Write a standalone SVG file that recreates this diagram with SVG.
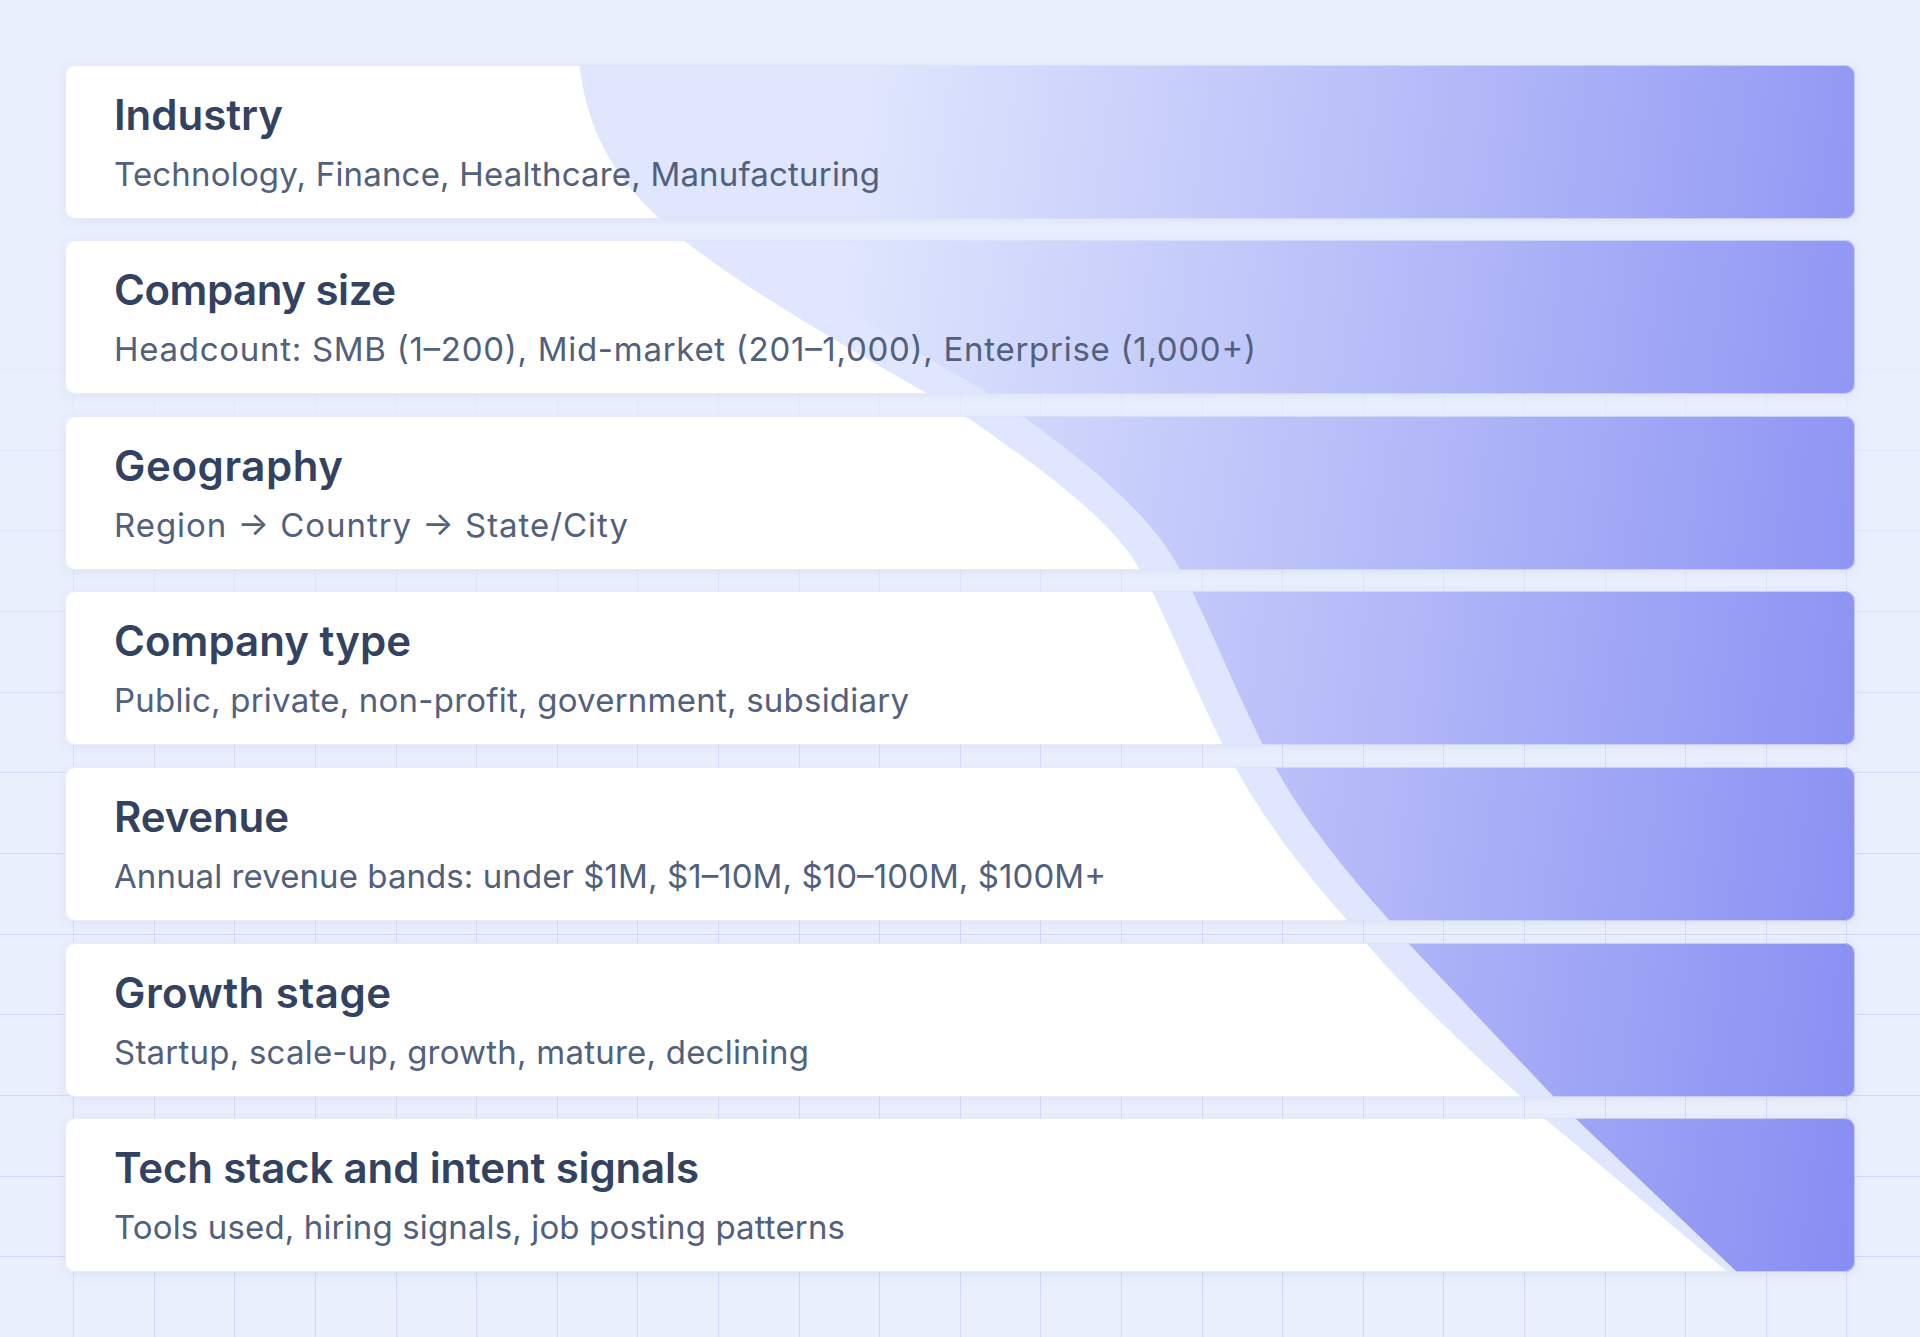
<svg xmlns="http://www.w3.org/2000/svg" width="1920" height="1337" viewBox="0 0 1920 1337">
<defs>
<style>
.bg{fill:#E9EFFD}
.grid{fill:none;stroke:#CFDAF8;stroke-width:1}
.card{fill:#FFFFFF}
.edge{fill:none;stroke:#DCE3F6;stroke-opacity:0.7;stroke-width:1}
.band{fill:#DFE6FD}
.grad{fill:url(#fg)}
.title{font-family:Inter,"Liberation Sans",sans-serif;font-weight:600;font-size:42px;fill:#334260}
.sub{font-family:Inter,"Liberation Sans",sans-serif;font-weight:400;font-size:33px;fill:#51607D}
</style>
<linearGradient id="fg" gradientUnits="userSpaceOnUse" x1="861" y1="140" x2="1973" y2="283">
<stop offset="0" stop-color="#DFE6FD"/>
<stop offset="0.5" stop-color="#B5BBF8"/>
<stop offset="1" stop-color="#888EF2"/>
</linearGradient>
<linearGradient id="fade" gradientUnits="userSpaceOnUse" x1="0" y1="280" x2="0" y2="820">
<stop offset="0" stop-color="#fff" stop-opacity="0"/>
<stop offset="1" stop-color="#fff" stop-opacity="1"/>
</linearGradient>
<mask id="gridmask" maskUnits="userSpaceOnUse" x="0" y="0" width="1920" height="1337">
<rect x="0" y="0" width="1920" height="1337" fill="url(#fade)"/>
</mask>
<filter id="sh" x="-5%" y="-20%" width="110%" height="150%">
<feDropShadow dx="0" dy="2" stdDeviation="4" flood-color="#5B6EA8" flood-opacity="0.10"/>
</filter>
<path id="outer" d="M579 60 C584.3 113 601.7 166 660 219 L683 240 C749.7 291.3 838.2 342.7 928 394 L965 416 C1039.4 467.3 1111.8 518.7 1140 570 L1152 591 C1176.6 642.3 1197.4 693.7 1223 745 L1235 767 C1263.2 818.3 1301.8 869.7 1348 921 L1366 943 C1409.6 994.3 1464.6 1045.7 1521 1097 L1544 1118 L1729 1273 L1740 1284 L1900 1284 L1900 60 Z"/>
<path id="inner" d="M640 60 C645.3 113 662.7 166 721 219 L745 240 C811.7 291.3 900.2 342.7 990 394 L1022 416 C1093.8 467.3 1154.3 518.7 1180 570 L1192 591 C1216.6 642.3 1237.4 693.7 1263 745 L1275 767 C1303.2 818.3 1343.8 869.7 1390 921 L1408 943 L1554 1097 L1575 1118 L1738 1273 L1746 1284 L1900 1284 L1900 60 Z"/>
<clipPath id="c1"><rect x="65" y="65" width="1790" height="154" rx="10"/></clipPath>
<clipPath id="c2"><rect x="65" y="240" width="1790" height="154" rx="10"/></clipPath>
<clipPath id="c3"><rect x="65" y="416" width="1790" height="154" rx="10"/></clipPath>
<clipPath id="c4"><rect x="65" y="591" width="1790" height="154" rx="10"/></clipPath>
<clipPath id="c5"><rect x="65" y="767" width="1790" height="154" rx="10"/></clipPath>
<clipPath id="c6"><rect x="65" y="943" width="1790" height="154" rx="10"/></clipPath>
<clipPath id="c7"><rect x="65" y="1118" width="1790" height="154" rx="10"/></clipPath>
</defs>

<rect class="bg" x="0" y="0" width="1920" height="1337"/>
<g id="grid" mask="url(#gridmask)">
<path class="grid" d="M73.5 0V1337M154.5 0V1337M234.5 0V1337M315.5 0V1337M396.5 0V1337M476.5 0V1337M557.5 0V1337M637.5 0V1337M718.5 0V1337M799.5 0V1337M879.5 0V1337M960.5 0V1337M1040.5 0V1337M1121.5 0V1337M1202.5 0V1337M1282.5 0V1337M1363.5 0V1337M1443.5 0V1337M1524.5 0V1337M1605.5 0V1337M1685.5 0V1337M1766.5 0V1337M1846.5 0V1337"/>
<path class="grid" d="M0 47.5H1920M0 127.5H1920M0 208.5H1920M0 288.5H1920M0 369.5H1920M0 450.5H1920M0 530.5H1920M0 611.5H1920M0 692.5H1920M0 772.5H1920M0 853.5H1920M0 934.5H1920M0 1014.5H1920M0 1095.5H1920M0 1176.5H1920M0 1256.5H1920"/>
</g>

<g id="connectors"></g>

<g id="node-industry">
<rect class="card" x="65" y="65" width="1790" height="154" rx="10" filter="url(#sh)"/>
<g clip-path="url(#c1)"><use href="#outer" class="band"/><use href="#inner" class="grad"/></g>
<rect class="edge" x="65.5" y="65.5" width="1789" height="153" rx="10"/>
<text class="title" x="114" y="130" textLength="169">Industry</text>
<text class="sub" x="114" y="186" textLength="766">Technology, Finance, Healthcare, Manufacturing</text>
</g>

<g id="node-company-size">
<rect class="card" x="65" y="240" width="1790" height="154" rx="10" filter="url(#sh)"/>
<g clip-path="url(#c2)"><use href="#outer" class="band"/><use href="#inner" class="grad"/></g>
<rect class="edge" x="65.5" y="240.5" width="1789" height="153" rx="10"/>
<text class="title" x="114" y="305" textLength="282">Company size</text>
<text class="sub" x="114" y="361" textLength="1142">Headcount: SMB (1–200), Mid-market (201–1,000), Enterprise (1,000+)</text>
</g>

<g id="node-geography">
<rect class="card" x="65" y="416" width="1790" height="154" rx="10" filter="url(#sh)"/>
<g clip-path="url(#c3)"><use href="#outer" class="band"/><use href="#inner" class="grad"/></g>
<rect class="edge" x="65.5" y="416.5" width="1789" height="153" rx="10"/>
<text class="title" x="114" y="481" textLength="229">Geography</text>
<text class="sub" x="114" y="537" textLength="514">Region → Country → State/City</text>
</g>

<g id="node-company-type">
<rect class="card" x="65" y="591" width="1790" height="154" rx="10" filter="url(#sh)"/>
<g clip-path="url(#c4)"><use href="#outer" class="band"/><use href="#inner" class="grad"/></g>
<rect class="edge" x="65.5" y="591.5" width="1789" height="153" rx="10"/>
<text class="title" x="114" y="656" textLength="297">Company type</text>
<text class="sub" x="114" y="712" textLength="795">Public, private, non-profit, government, subsidiary</text>
</g>

<g id="node-revenue">
<rect class="card" x="65" y="767" width="1790" height="154" rx="10" filter="url(#sh)"/>
<g clip-path="url(#c5)"><use href="#outer" class="band"/><use href="#inner" class="grad"/></g>
<rect class="edge" x="65.5" y="767.5" width="1789" height="153" rx="10"/>
<text class="title" x="114" y="832" textLength="175">Revenue</text>
<text class="sub" x="114" y="888" textLength="992">Annual revenue bands: under $1M, $1–10M, $10–100M, $100M+</text>
</g>

<g id="node-growth-stage">
<rect class="card" x="65" y="943" width="1790" height="154" rx="10" filter="url(#sh)"/>
<g clip-path="url(#c6)"><use href="#outer" class="band"/><use href="#inner" class="grad"/></g>
<rect class="edge" x="65.5" y="943.5" width="1789" height="153" rx="10"/>
<text class="title" x="114" y="1008" textLength="277">Growth stage</text>
<text class="sub" x="114" y="1064" textLength="695">Startup, scale-up, growth, mature, declining</text>
</g>

<g id="node-tech-stack">
<rect class="card" x="65" y="1118" width="1790" height="154" rx="10" filter="url(#sh)"/>
<g clip-path="url(#c7)"><use href="#outer" class="band"/><use href="#inner" class="grad"/></g>
<rect class="edge" x="65.5" y="1118.5" width="1789" height="153" rx="10"/>
<text class="title" x="114" y="1183" textLength="585">Tech stack and intent signals</text>
<text class="sub" x="114" y="1239" textLength="731">Tools used, hiring signals, job posting patterns</text>
</g>
</svg>
